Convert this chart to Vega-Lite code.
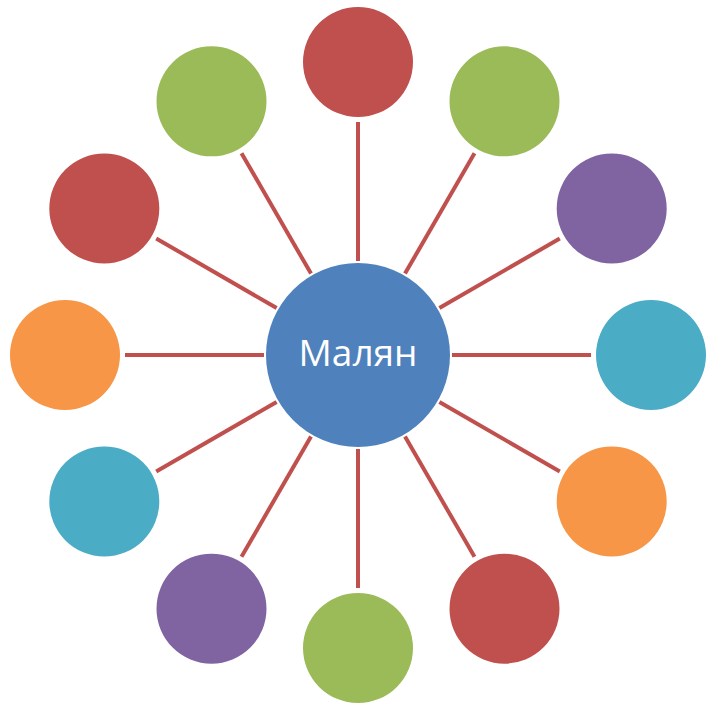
{
  "$schema": "https://vega.github.io/schema/vega-lite/v6.json",
  "width": 710,
  "height": 704,
  "autosize": {"type": "fit", "contains": "padding"},
  "padding": 0,
  "background": "white",
  "config": {"view": {"stroke": null}},
  "datasets": {
    "spokes": [
      {"x": 0, "y": 94, "x2": 0, "y2": 233},
      {"x": 47, "y": 81.4, "x2": 116.5, "y2": 201.8},
      {"x": 81.4, "y": 47, "x2": 201.8, "y2": 116.5},
      {"x": 94, "y": 0, "x2": 233, "y2": 0},
      {"x": 81.4, "y": -47, "x2": 201.8, "y2": -116.5},
      {"x": 47, "y": -81.4, "x2": 116.5, "y2": -201.8},
      {"x": 0, "y": -94, "x2": 0, "y2": -233},
      {"x": -47, "y": -81.4, "x2": -116.5, "y2": -201.8},
      {"x": -81.4, "y": -47, "x2": -201.8, "y2": -116.5},
      {"x": -94, "y": 0, "x2": -233, "y2": 0},
      {"x": -81.4, "y": 47, "x2": -201.8, "y2": 116.5},
      {"x": -47, "y": 81.4, "x2": -116.5, "y2": 201.8}
    ],
    "nodes": [
      {"x": 0, "y": 293, "c": "red"},
      {"x": 146.5, "y": 253.7, "c": "green"},
      {"x": 253.7, "y": 146.5, "c": "purple"},
      {"x": 293, "y": 0, "c": "teal"},
      {"x": 253.7, "y": -146.5, "c": "orange"},
      {"x": 146.5, "y": -253.7, "c": "red"},
      {"x": 0, "y": -293, "c": "green"},
      {"x": -146.5, "y": -253.7, "c": "purple"},
      {"x": -253.7, "y": -146.5, "c": "teal"},
      {"x": -293, "y": 0, "c": "orange"},
      {"x": -253.7, "y": 146.5, "c": "red"},
      {"x": -146.5, "y": 253.7, "c": "green"}
    ],
    "hub": [
      {"x": 0, "y": 0, "label": "Малян"}
    ]
  },
  "layer": [
    {
      "data": {"name": "spokes"},
      "mark": {"type": "rule", "color": "#C0504D", "strokeWidth": 4},
      "encoding": {
        "x": {"field": "x", "type": "quantitative", "scale": {"domain": [-358, 352]}, "axis": null},
        "y": {"field": "y", "type": "quantitative", "scale": {"domain": [-349, 355]}, "axis": null},
        "x2": {"field": "x2"},
        "y2": {"field": "y2"}
      }
    },
    {
      "data": {"name": "nodes"},
      "mark": {"type": "circle", "size": 12100, "opacity": 1},
      "encoding": {
        "x": {"field": "x", "type": "quantitative", "scale": {"domain": [-358, 352]}, "axis": null},
        "y": {"field": "y", "type": "quantitative", "scale": {"domain": [-349, 355]}, "axis": null},
        "color": {
          "field": "c", "type": "nominal", "legend": null,
          "scale": {
            "domain": ["red", "green", "purple", "teal", "orange"],
            "range": ["#C0504D", "#9BBB59", "#8064A2", "#4BACC6", "#F79646"]
          }
        }
      }
    },
    {
      "data": {"name": "hub"},
      "mark": {"type": "circle", "size": 33856, "opacity": 1, "color": "#4F81BD"},
      "encoding": {
        "x": {"field": "x", "type": "quantitative", "scale": {"domain": [-358, 352]}, "axis": null},
        "y": {"field": "y", "type": "quantitative", "scale": {"domain": [-349, 355]}, "axis": null}
      }
    },
    {
      "data": {"name": "hub"},
      "mark": {"type": "text", "color": "white", "fontSize": 37, "font": "Open Sans", "align": "center", "baseline": "middle"},
      "encoding": {
        "x": {"field": "x", "type": "quantitative", "scale": {"domain": [-358, 352]}, "axis": null},
        "y": {"field": "y", "type": "quantitative", "scale": {"domain": [-349, 355]}, "axis": null},
        "text": {"field": "label"}
      }
    }
  ]
}
